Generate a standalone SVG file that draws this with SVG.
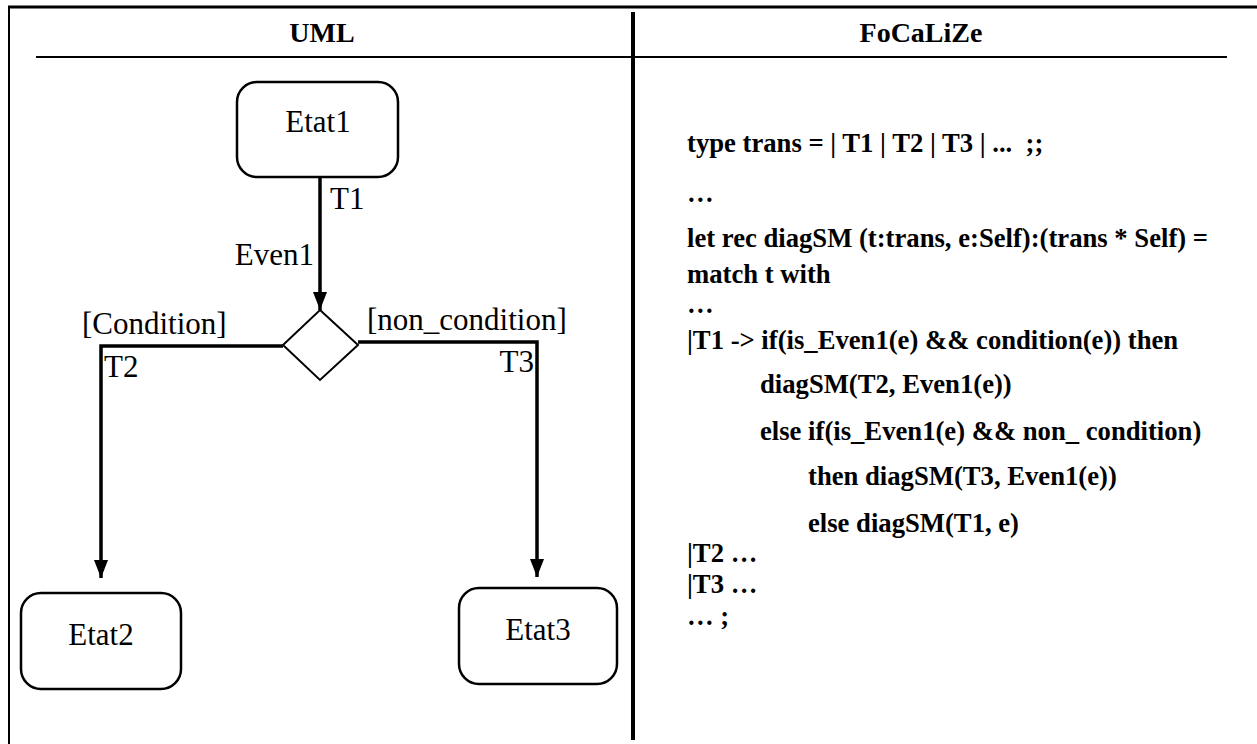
<svg xmlns="http://www.w3.org/2000/svg" width="1257" height="744" viewBox="0 0 1257 744">
  <defs>
    <marker id="arrow" markerWidth="18" markerHeight="14" refX="18" refY="7" orient="auto" markerUnits="userSpaceOnUse" viewBox="0 0 18 14">
      <path d="M0,0 L18,7 L0,14 Z" fill="#000"/>
    </marker>
    <style>
      .frame { stroke: #000; fill: none; }
      .state { fill: #fff; stroke: #000; stroke-width: 2.5; }
      .choice { fill: #fff; stroke: #000; stroke-width: 2; }
      .edge { fill: none; stroke: #000; stroke-width: 3.5; }
      .lbl { font-size: 31px; fill: #000; }
      .hdr { font-size: 28px; font-weight: bold; fill: #000; text-anchor: middle; }
      .code { font-size: 26.67px; font-weight: bold; fill: #000; }
    </style>
  </defs>
  <rect width="1257" height="744" fill="#fff"/>

  <g font-family="'Liberation Serif', 'Times New Roman', Tinos, 'DejaVu Serif', serif">
  <!-- table frame -->
  <g id="table">
    <line class="frame" x1="8" y1="7" x2="1257" y2="7" stroke-width="3"/>
    <line class="frame" x1="9" y1="7" x2="9" y2="744" stroke-width="2"/>
    <line class="frame" x1="633" y1="12" x2="633" y2="740" stroke-width="4"/>
    <line class="frame" x1="36" y1="57" x2="1227" y2="57" stroke-width="2"/>
    <text class="hdr" x="322" y="42">UML</text>
    <text class="hdr" x="921" y="42">FoCaLiZe</text>
  </g>

  <!-- connectors -->
  <g id="connectors">
    <line class="edge" x1="320" y1="177" x2="320" y2="310" marker-end="url(#arrow)"/>
    <path class="edge" d="M283,346 H101 V578" marker-end="url(#arrow)"/>
    <path class="edge" d="M358,342 H537 V577" marker-end="url(#arrow)"/>
    <text class="lbl" x="330" y="209">T1</text>
    <text class="lbl" x="314" y="265" text-anchor="end">Even1</text>
    <text class="lbl" x="82" y="334">[Condition]</text>
    <text class="lbl" x="367" y="330">[non_condition]</text>
    <text class="lbl" x="104" y="377">T2</text>
    <text class="lbl" x="534" y="372" text-anchor="end">T3</text>
  </g>

  <g id="etat1">
    <rect class="state" x="237" y="82" width="161" height="95" rx="20"/>
    <text class="lbl" x="318" y="132" text-anchor="middle">Etat1</text>
  </g>

  <g id="choice">
    <polygon class="choice" points="320,310 358,345 320,380 283,345"/>
  </g>

  <g id="etat2">
    <rect class="state" x="21" y="593" width="160" height="96" rx="20"/>
    <text class="lbl" x="101" y="645" text-anchor="middle">Etat2</text>
  </g>

  <g id="etat3">
    <rect class="state" x="459" y="588" width="158" height="96" rx="20"/>
    <text class="lbl" x="538" y="640" text-anchor="middle">Etat3</text>
  </g>

  <!-- FoCaLiZe translation -->
  <g id="code">
    <text class="code" x="687" y="152" xml:space="preserve">type trans = | T1 | T2 | T3 | ...  ;;</text>
    <text class="code" x="687" y="202">…</text>
    <text class="code" x="687" y="247">let rec diagSM (t:trans, e:Self):(trans * Self) =</text>
    <text class="code" x="687" y="283">match t with</text>
    <text class="code" x="687" y="313">…</text>
    <text class="code" x="687" y="349">|T1 -&gt; if(is_Even1(e) &amp;&amp; condition(e)) then</text>
    <text class="code" x="760" y="393">diagSM(T2, Even1(e))</text>
    <text class="code" x="760" y="440">else if(is_Even1(e) &amp;&amp; non_ condition)</text>
    <text class="code" x="808" y="485">then diagSM(T3, Even1(e))</text>
    <text class="code" x="808" y="532">else diagSM(T1, e)</text>
    <text class="code" x="687" y="562">|T2 …</text>
    <text class="code" x="687" y="593">|T3 …</text>
    <text class="code" x="687" y="625">… ;</text>
  </g>
  </g>
</svg>
